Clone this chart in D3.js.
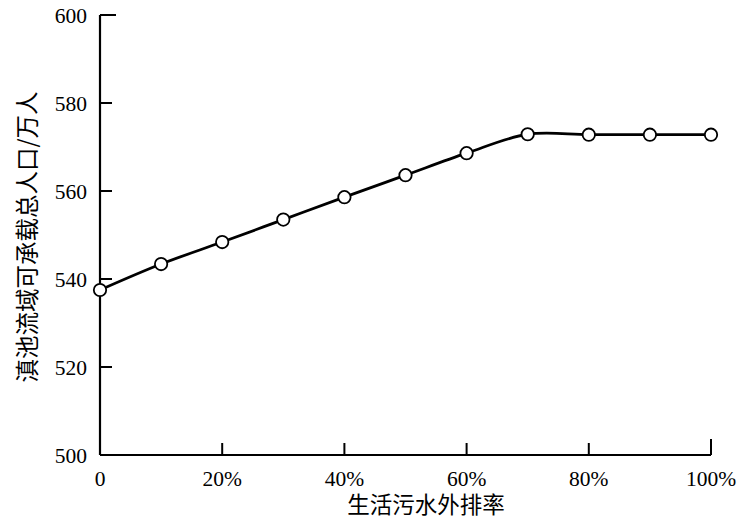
<!DOCTYPE html>
<html><head><meta charset="utf-8">
<script src="https://cdn.jsdelivr.net/npm/d3@7/dist/d3.min.js"></script>
<style>body{margin:0;background:#fff}</style>
</head><body>
<svg id="c" width="747" height="523"></svg>
<script>
const xValues = [0, 0.1, 0.2, 0.3, 0.4, 0.5, 0.6, 0.7, 0.8, 0.9, 1.0];
const population = [537.5, 543.4, 548.4, 553.5, 558.6, 563.6, 568.6, 572.9, 572.8, 572.8, 572.8];
const xTicks = [0, 0.2, 0.4, 0.6, 0.8, 1.0];
const xTickLabels = ["0", "20%", "40%", "60%", "80%", "100%"];
const yTicks = [500, 520, 540, 560, 580, 600];
const xTitle = "生活污水外排率";
const yTitle = "滇池流域可承载总人口/万人";

const svg = d3.select("#c");
const x = d3.scaleLinear().domain([0, 1]).range([100, 711]);
const y = d3.scaleLinear().domain([500, 600]).range([455, 15]);
const serif = "'Liberation Serif','Times New Roman',serif";
const cjk = "'Noto Sans CJK SC','Noto Sans CJK JP',sans-serif";

// axes lines
svg.append("line").attr("x1", x(0)).attr("x2", x(1)).attr("y1", y(500)).attr("y2", y(500))
  .attr("stroke", "#000").attr("stroke-width", 2.2);
svg.append("line").attr("x1", x(0)).attr("x2", x(0)).attr("y1", y(500)).attr("y2", y(600))
  .attr("stroke", "#000").attr("stroke-width", 2.2);

// x ticks
xTicks.forEach((t, i) => {
  if (i === 0) return;
  const len = (t === 1) ? 16 : 12;
  svg.append("line").attr("x1", x(t)).attr("x2", x(t)).attr("y1", y(500)).attr("y2", y(500) - len)
    .attr("stroke", "#000").attr("stroke-width", 2);
});
svg.selectAll(".xl").data(xTicks).enter().append("text")
  .attr("x", d => x(d)).attr("y", 486).attr("text-anchor", "middle")
  .attr("font-family", serif).attr("font-size", 21.5).text((d, i) => xTickLabels[i]);

// y ticks
yTicks.forEach(t => {
  if (t === 500) return;
  const len = (t === 600) ? 16 : 12;
  svg.append("line").attr("x1", x(0)).attr("x2", x(0) + len).attr("y1", y(t)).attr("y2", y(t))
    .attr("stroke", "#000").attr("stroke-width", 2);
});
svg.selectAll(".yl").data(yTicks).enter().append("text")
  .attr("x", 87).attr("y", d => y(d) + 7.5).attr("text-anchor", "end")
  .attr("font-family", serif).attr("font-size", 21.5).text(d => d);

// titles
svg.append("text").attr("x", 426).attr("y", 513).attr("text-anchor", "middle")
  .attr("font-family", cjk).attr("font-size", 22.5).text(xTitle);
svg.append("text").attr("transform", "translate(36,237) rotate(-90)").attr("text-anchor", "middle")
  .attr("font-family", cjk).attr("font-size", 23.5).text(yTitle);

// line
const pts = xValues.map((v, i) => [v, population[i]]);
const line = d3.line().x(d => x(d[0])).y(d => y(d[1])).curve(d3.curveCatmullRom.alpha(0.5));
svg.append("path").attr("d", line(pts)).attr("fill", "none").attr("stroke", "#000").attr("stroke-width", 2.8);
svg.selectAll(".pt").data(pts).enter().append("circle")
  .attr("cx", d => x(d[0])).attr("cy", d => y(d[1])).attr("r", 6.2)
  .attr("fill", "#fff").attr("stroke", "#000").attr("stroke-width", 1.8);
</script>
</body></html>
